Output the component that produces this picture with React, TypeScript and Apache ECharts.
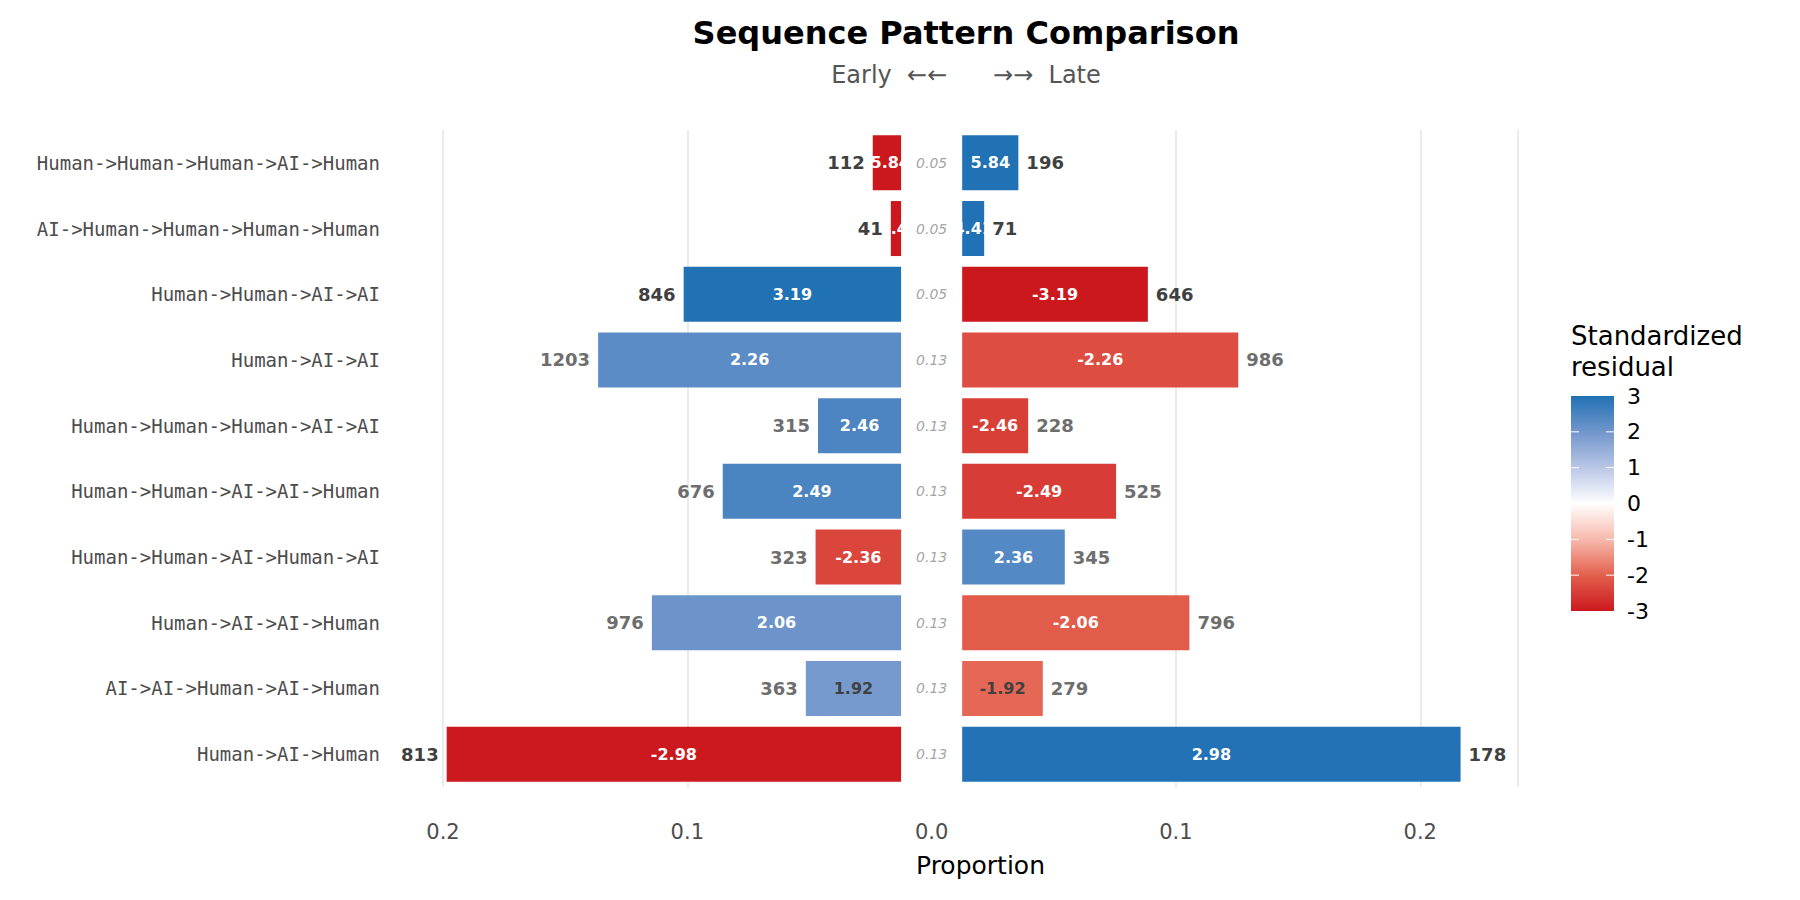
import { useEffect, useRef } from 'react';
import * as echarts from 'echarts';

const categories = [
  'Human->Human->Human->AI->Human',
  'AI->Human->Human->Human->Human',
  'Human->Human->AI->AI',
  'Human->AI->AI',
  'Human->Human->Human->AI->AI',
  'Human->Human->AI->AI->Human',
  'Human->Human->AI->Human->AI',
  'Human->AI->AI->Human',
  'AI->AI->Human->AI->Human',
  'Human->AI->Human',
];
const earlyProp = [0.0116, 0.0042, 0.089, 0.124, 0.034, 0.073, 0.035, 0.102, 0.039, 0.186];
const lateProp = [0.023, 0.009, 0.076, 0.113, 0.027, 0.063, 0.042, 0.093, 0.033, 0.204];
const earlyCount = [112, 41, 846, 1203, 315, 676, 323, 976, 363, 813];
const lateCount = [196, 71, 646, 986, 228, 525, 345, 796, 279, 178];
const earlyResid = [-5.84, -4.41, 3.19, 2.26, 2.46, 2.49, -2.36, 2.06, 1.92, -2.98];
const lateResid = [5.84, 4.41, -3.19, -2.26, -2.46, -2.49, 2.36, -2.06, -1.92, 2.98];
const pValues = ['0.05', '0.05', '0.05', '0.13', '0.13', '0.13', '0.13', '0.13', '0.13', '0.13'];
const legendTicks = [3, 2, 1, 0, -1, -2, -3];

const GAP = 0.0125;
const stops = ['#cb181d', '#e3604e', '#f7b9ac', '#ffffff', '#b9c6e6', '#7196cc', '#2171b5'];
const darkRows = [0, 1, 2, 9];

function hex(c: string) {
  return [1, 3, 5].map((i) => parseInt(c.slice(i, i + 2), 16));
}
function residColor(r: number) {
  const t = Math.max(-3, Math.min(3, r)) + 3;
  const i = Math.min(5, Math.floor(t));
  const f = t - i;
  const a = hex(stops[i]);
  const b = hex(stops[i + 1]);
  const m = a.map((v, k) => Math.round(v + (b[k] - v) * f));
  return `rgb(${m[0]},${m[1]},${m[2]})`;
}

const sans = 'DejaVu Sans';

export default function App() {
  const ref = useRef<HTMLDivElement>(null);

  useEffect(() => {
    if (!ref.current) return;
    const chart = echarts.init(ref.current, null, { renderer: 'svg' });

    const residLabel = (resid: number[]) => ({
      show: true,
      position: 'inside' as const,
      fontFamily: sans,
      fontWeight: 'bold' as const,
      fontSize: 16,
      formatter: (p: any) => resid[p.dataIndex].toFixed(2),
    });
    const countLabel = (counts: number[], pos: 'left' | 'right') => ({
      show: true,
      position: pos,
      distance: 8,
      fontFamily: sans,
      fontWeight: 'bold' as const,
      fontSize: 18,
      formatter: (p: any) => String(counts[p.dataIndex]),
    });

    const gx = 1563;
    const gTop = 388;
    const gBot = 603;
    const graphic: any[] = [
      {
        type: 'rect', shape: { x: gx, y: gTop, width: 43, height: gBot - gTop },
        style: {
          fill: new echarts.graphic.LinearGradient(0, 0, 0, 1,
            stops.slice().reverse().map((c, i) => ({ offset: i / 6, color: c }))),
        },
      },
      {
        type: 'text', x: gx, y: 312,
        style: { text: 'Standardized\nresidual', fontFamily: sans, fontSize: 26, lineHeight: 31, fill: '#000' },
      },
    ];
    legendTicks.forEach((t, i) => {
      const y = gTop + (i * (gBot - gTop)) / 6;
      graphic.push({
        type: 'text', x: gx + 56, y, style: { text: String(t), fontFamily: sans, fontSize: 22, fill: '#000', verticalAlign: 'middle' },
      });
      if (i > 0 && i < 6) {
        graphic.push({ type: 'line', shape: { x1: gx, y1: y, x2: gx + 8, y2: y }, style: { stroke: '#fff', lineWidth: 1 } });
        graphic.push({ type: 'line', shape: { x1: gx + 35, y1: y, x2: gx + 43, y2: y }, style: { stroke: '#fff', lineWidth: 1 } });
      }
    });

    const bar = { type: 'bar', stack: 'S', barWidth: 55 };

    chart.setOption({
      animation: false,
      title: {
        text: 'Sequence Pattern Comparison',
        subtext: 'Early  \u2190\u2190      \u2192\u2192  Late',
        left: 953,
        textAlign: 'center',
        top: 4,
        itemGap: 14,
        textStyle: { fontFamily: sans, fontWeight: 'bold', fontSize: 32, color: '#000' },
        subtextStyle: { fontFamily: sans, fontSize: 24, color: '#555' },
      },
      graphic,
      grid: { left: 435, right: 274, top: 122, bottom: 105 },
      xAxis: {
        type: 'value',
        min: -0.2,
        max: 0.24,
        interval: 0.1,
        axisLine: { show: false },
        axisTick: { show: false },
        splitLine: {
          show: true,
          lineStyle: { width: 2, color: ['#ebebeb', '#ebebeb', 'rgba(0,0,0,0)', '#ebebeb', '#ebebeb'] },
        },
        axisLabel: {
          showMaxLabel: false,
          fontFamily: sans,
          fontSize: 21,
          color: '#4d4d4d',
          margin: 34,
          formatter: (v: number) => Math.abs(v).toFixed(1),
        },
        name: 'Proportion',
        nameLocation: 'middle',
        nameGap: 66,
        nameTextStyle: { fontFamily: sans, fontSize: 25, color: '#000' },
      },
      yAxis: {
        type: 'category',
        data: categories,
        inverse: true,
        axisLine: { show: false },
        axisTick: { show: false },
        axisLabel: { fontFamily: 'DejaVu Sans Mono', fontSize: 19, color: '#4d4d4d', margin: 63 },
      },
      series: [
        { ...bar, silent: true, data: earlyProp.map(() => -GAP), itemStyle: { color: 'rgba(0,0,0,0)' } },
        {
          ...bar,
          data: earlyProp.map((v, i) => ({
            value: -v,
            itemStyle: { color: residColor(earlyResid[i]) },
            label: { color: Math.abs(earlyResid[i]) < 2 ? '#404040' : '#fff' },
          })),
          label: residLabel(earlyResid),
        },
        {
          ...bar,
          data: earlyProp.map((_, i) => ({
            value: -0.000001,
            label: { color: darkRows.includes(i) ? '#404040' : '#6e6e6e' },
          })),
          itemStyle: { color: 'rgba(0,0,0,0)' },
          label: countLabel(earlyCount, 'left'),
        },
        { ...bar, silent: true, data: lateProp.map(() => GAP), itemStyle: { color: 'rgba(0,0,0,0)' } },
        {
          ...bar,
          data: lateProp.map((v, i) => ({
            value: v,
            itemStyle: { color: residColor(lateResid[i]) },
            label: { color: Math.abs(lateResid[i]) < 2 ? '#404040' : '#fff' },
          })),
          label: residLabel(lateResid),
        },
        {
          ...bar,
          data: lateProp.map((_, i) => ({
            value: 0.000001,
            label: { color: darkRows.includes(i) ? '#404040' : '#6e6e6e' },
          })),
          itemStyle: { color: 'rgba(0,0,0,0)' },
          label: countLabel(lateCount, 'right'),
        },
        {
          type: 'scatter',
          symbolSize: 0,
          data: categories.map((c) => [0, c]),
          label: {
            show: true,
            position: 'inside',
            fontFamily: sans,
            fontStyle: 'italic',
            fontSize: 14,
            color: '#8c8c8c',
            formatter: (p: any) => pValues[p.dataIndex],
          },
          z: 5,
        },
      ],
    });

    return () => chart.dispose();
  }, []);

  return <div ref={ref} style={{ width: 1784, height: 884 }} />;
}
